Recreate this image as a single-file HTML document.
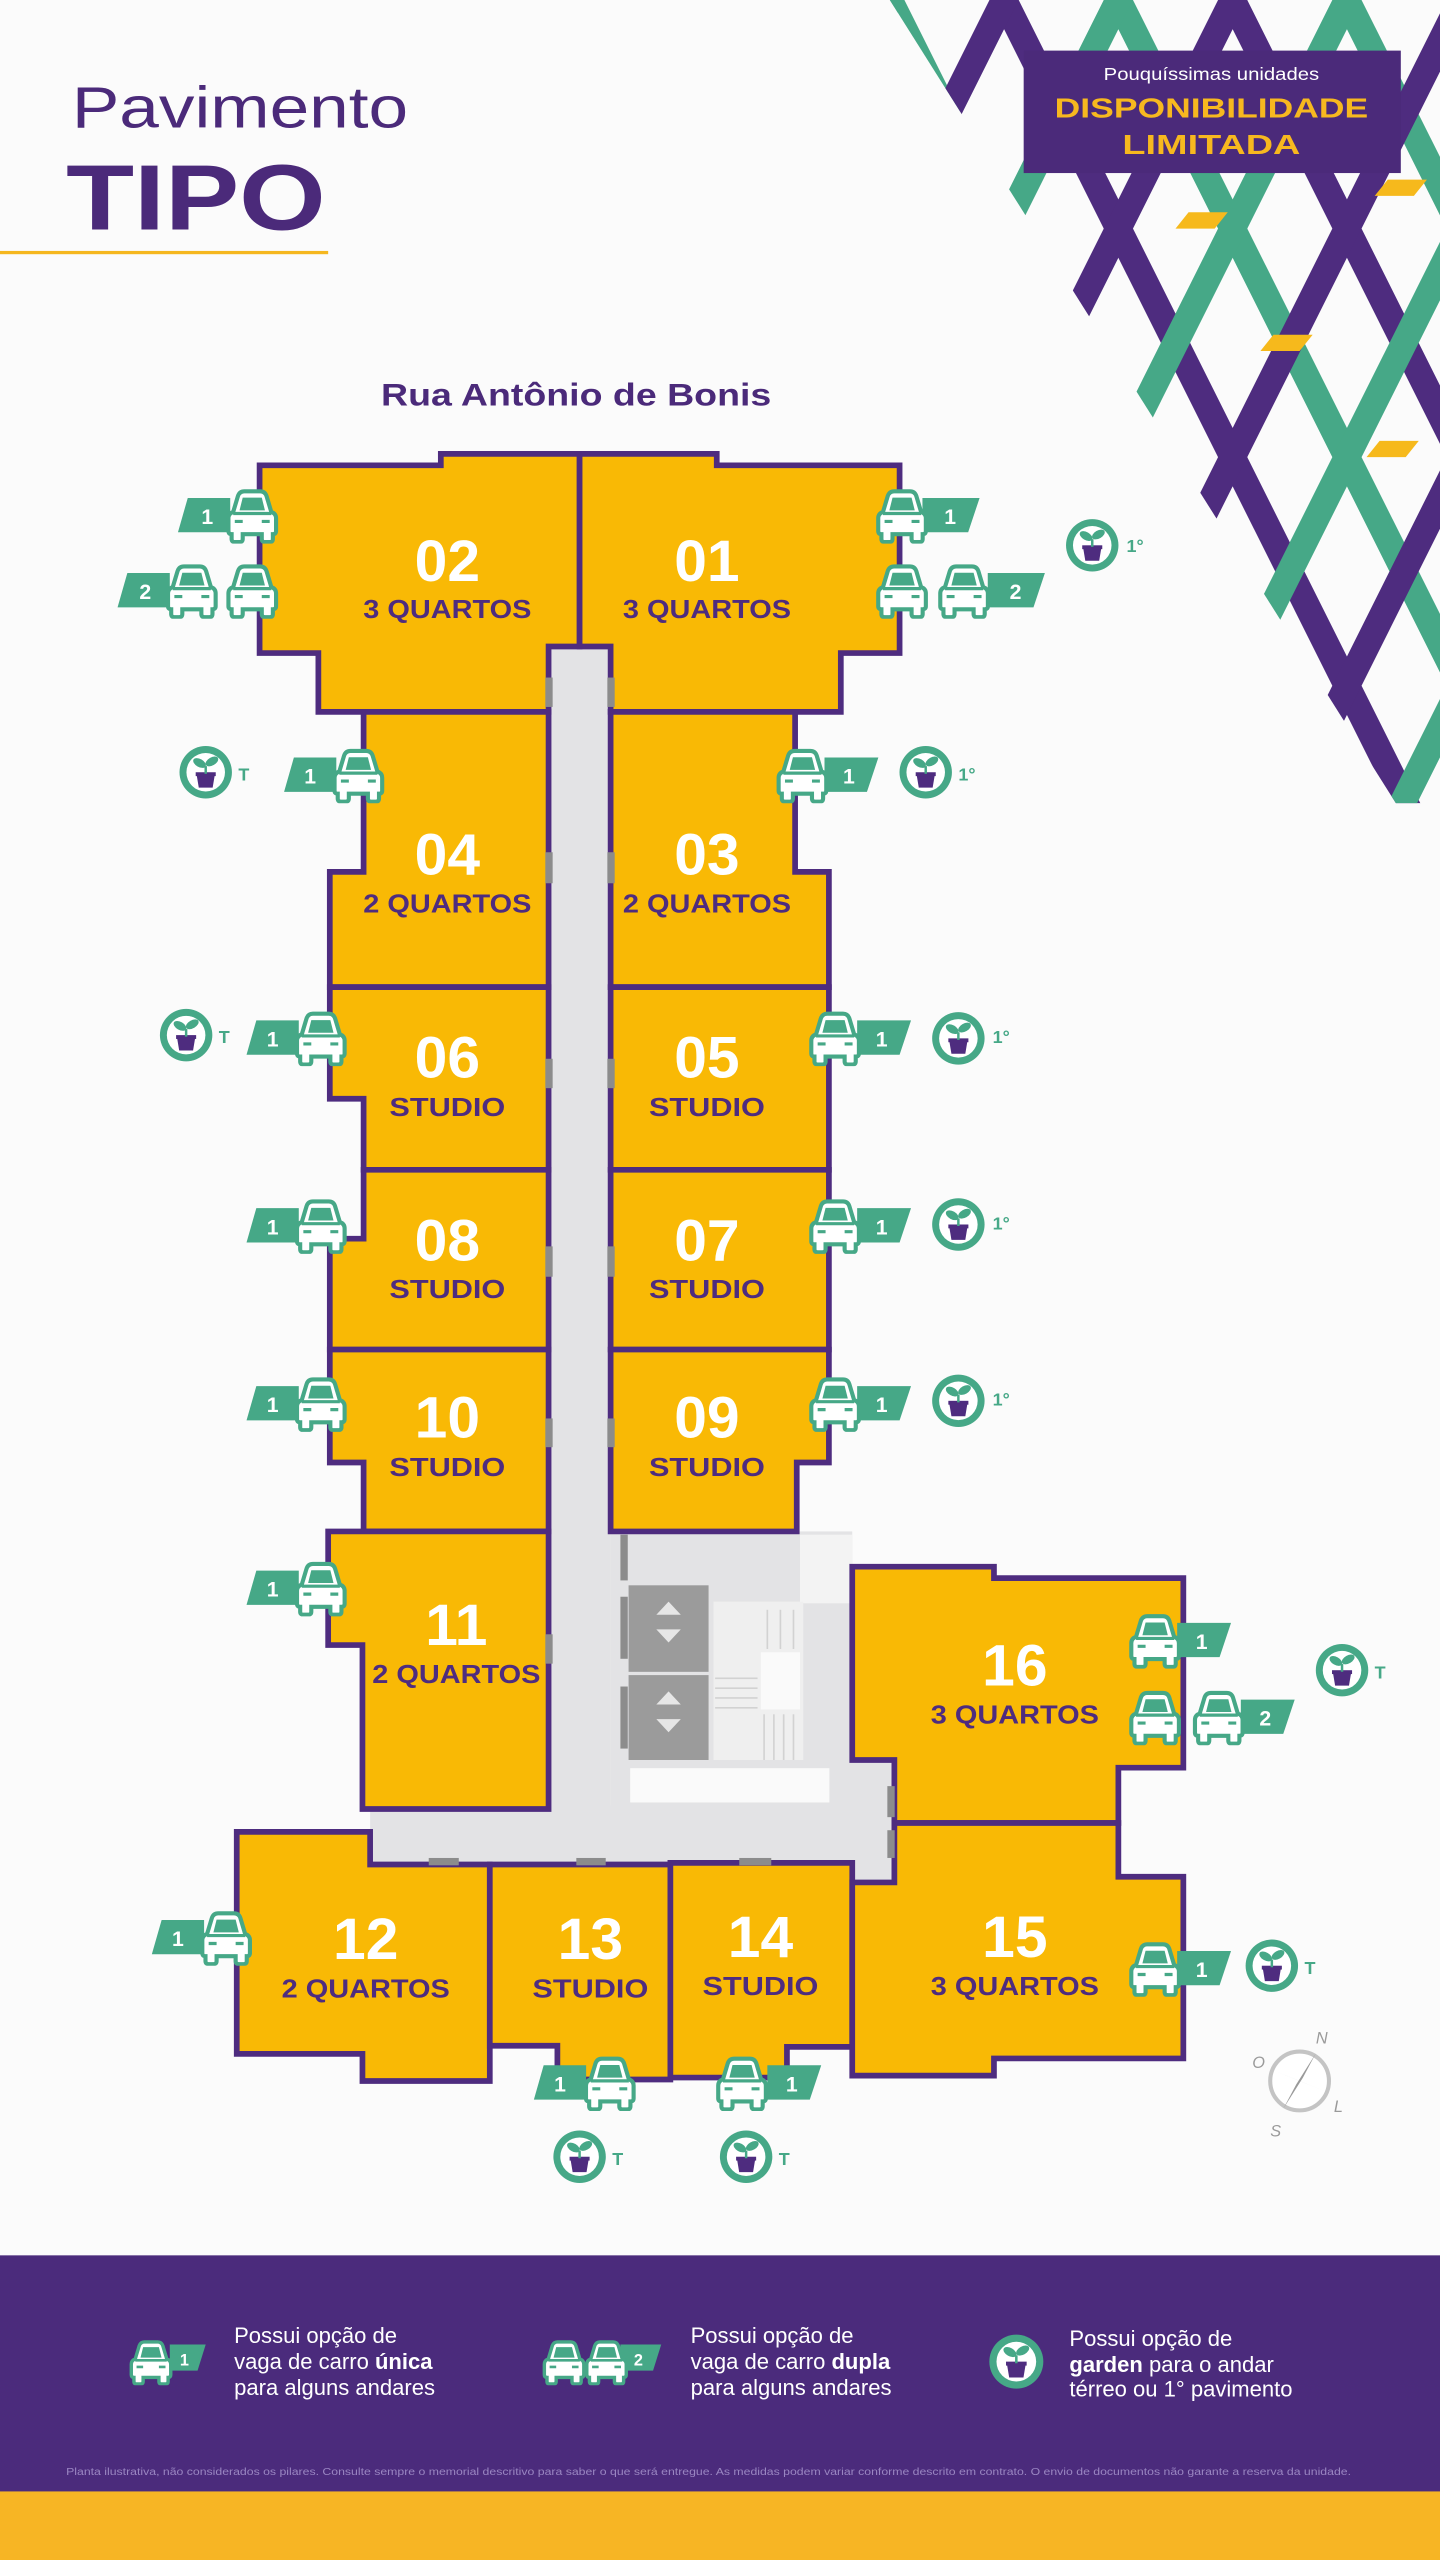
<!DOCTYPE html>
<html><head><meta charset="utf-8"><style>
html,body{margin:0;padding:0;background:#fbfbfb;}
svg{display:block;}
text{font-family:"Liberation Sans",sans-serif;}
</style></head><body>
<svg width="1440" height="2560" viewBox="0 0 882 1568" xmlns="http://www.w3.org/2000/svg">
<defs>
<clipPath id="pc"><polygon points="545,0 882,0 882,492 855,492"/></clipPath>
<symbol id="car" viewBox="0 0 36 36">
<path d="M6,16 L9,6 Q10,3 13,3 L23,3 Q26,3 27,6 L30,16 Q33,17 33,20 L33,28 Q33,30 31,30 L31,33 Q31,35 29,35 L26,35 Q24,35 24,33 L24,30 L12,30 L12,33 Q12,35 10,35 L7,35 Q5,35 5,33 L5,30 Q3,30 3,28 L3,20 Q3,17 6,16 Z" fill="#fff" stroke="#46a887" stroke-width="2.6"/>
<path d="M10,15 L12,7 L24,7 L26,15 Z" fill="#46a887"/>
<g stroke="#46a887" stroke-width="2"><line x1="7" y1="22" x2="12" y2="22"/><line x1="24" y1="22" x2="29" y2="22"/><line x1="6" y1="17" x2="30" y2="17"/></g>
</symbol>
<symbol id="gar" viewBox="-18 -18 36 36">
<circle r="17" fill="#46a887"/><circle r="12.5" fill="#fff"/>
<path d="M-6,1 L6,1 L4.5,10 L-4.5,10 Z" fill="#4e2c7f"/>
<rect x="-6.5" y="0" width="13" height="2.5" fill="#4e2c7f"/>
<path d="M0,1 L0,-4" stroke="#46a887" stroke-width="1.6"/>
<ellipse cx="-4" cy="-6" rx="4.5" ry="2.6" transform="rotate(30 -4 -6)" fill="#46a887"/>
<ellipse cx="4" cy="-7" rx="4.5" ry="2.6" transform="rotate(-30 4 -7)" fill="#46a887"/>
</symbol>
</defs>

<!-- pattern -->
<g clip-path="url(#pc)" stroke-width="16">
<line x1="465" y1="-20" x2="735" y2="520" stroke="#4e2c7f"/>
<line x1="535" y1="-20" x2="805" y2="520" stroke="#46a887"/>
<line x1="605" y1="-20" x2="875" y2="520" stroke="#4e2c7f"/>
<line x1="675" y1="-20" x2="945" y2="520" stroke="#46a887"/>
<line x1="745" y1="-20" x2="1015" y2="520" stroke="#4e2c7f"/>
<line x1="815" y1="-20" x2="1085" y2="520" stroke="#46a887"/>
<line x1="885" y1="-20" x2="1155" y2="520" stroke="#4e2c7f"/>
<line x1="555" y1="-20" x2="285" y2="520" stroke="#46a887"/>
<line x1="625" y1="-20" x2="355" y2="520" stroke="#4e2c7f"/>
<line x1="695" y1="-20" x2="425" y2="520" stroke="#46a887"/>
<line x1="765" y1="-20" x2="495" y2="520" stroke="#4e2c7f"/>
<line x1="835" y1="-20" x2="565" y2="520" stroke="#46a887"/>
<line x1="905" y1="-20" x2="635" y2="520" stroke="#4e2c7f"/>
<line x1="975" y1="-20" x2="705" y2="520" stroke="#46a887"/>
<line x1="1045" y1="-20" x2="775" y2="520" stroke="#4e2c7f"/>
<line x1="1115" y1="-20" x2="845" y2="520" stroke="#46a887"/>
<line x1="1185" y1="-20" x2="915" y2="520" stroke="#4e2c7f"/>
</g>
<g fill="#f6b91c">
<polygon points="728,130 752,130 744,140 720,140"/>
<polygon points="780,205 804,205 796,215 772,215"/>
<polygon points="850,110 874,110 866,120 842,120"/>
<polygon points="845,270 869,270 861,280 837,280"/>
</g>

<!-- header -->
<text x="44" y="78" font-size="36" fill="#4b2a7a" textLength="206" lengthAdjust="spacingAndGlyphs">Pavimento</text>
<text x="40.5" y="140.6" font-size="57" font-weight="bold" fill="#4b2a7a" textLength="159" lengthAdjust="spacingAndGlyphs">TIPO</text>
<rect x="0" y="153.7" width="201" height="2" fill="#f5b71f"/>
<rect x="627" y="31" width="231" height="75" fill="#4b2a7a"/>
<text x="742" y="49" font-size="10.5" fill="#fff" text-anchor="middle" textLength="132" lengthAdjust="spacingAndGlyphs">Pouquíssimas unidades</text>
<text x="742" y="72" font-size="17" font-weight="bold" fill="#f7b81f" text-anchor="middle" textLength="192" lengthAdjust="spacingAndGlyphs">DISPONIBILIDADE</text>
<text x="742" y="94.4" font-size="17" font-weight="bold" fill="#f7b81f" text-anchor="middle" textLength="109" lengthAdjust="spacingAndGlyphs">LIMITADA</text>
<text x="233.4" y="248.4" font-size="19.5" font-weight="bold" fill="#4b2a7a" textLength="239" lengthAdjust="spacingAndGlyphs">Rua Antônio de Bonis</text>

<!-- corridor / core -->
<g fill="#e3e3e5">
<rect x="336" y="396" width="38" height="715"/>
<rect x="374" y="938" width="148" height="202"/>
<rect x="226.7" y="1106" width="300" height="36"/>
<rect x="520" y="1076" width="27.8" height="77"/>
</g>
<rect x="490" y="940" width="32" height="42" fill="#f3f3f3"/>
<rect x="385" y="971" width="49" height="53" fill="#9b9b9b"/>
<rect x="385" y="1026" width="49" height="52" fill="#9b9b9b"/>
<g fill="#e6e6e6">
<polygon points="409.5,981 402,989 417,989"/><polygon points="409.5,1006 402,998 417,998"/>
<polygon points="409.5,1036 402,1044 417,1044"/><polygon points="409.5,1061 402,1053 417,1053"/>
</g>
<rect x="437" y="981" width="55" height="97" fill="#efefef"/>
<g stroke="#d2d2d2" stroke-width="1">
<line x1="438" y1="1028" x2="464" y2="1028"/><line x1="438" y1="1034" x2="464" y2="1034"/><line x1="438" y1="1040" x2="464" y2="1040"/><line x1="438" y1="1046" x2="464" y2="1046"/>
<line x1="468" y1="1050" x2="468" y2="1078"/><line x1="474" y1="1050" x2="474" y2="1078"/><line x1="480" y1="1050" x2="480" y2="1078"/><line x1="486" y1="1050" x2="486" y2="1078"/>
<line x1="470" y1="986" x2="470" y2="1010"/><line x1="478" y1="986" x2="478" y2="1010"/><line x1="486" y1="986" x2="486" y2="1010"/>
</g>
<rect x="466" y="1012" width="24" height="35" fill="#fafafa"/>
<rect x="386" y="1083" width="122" height="21" fill="#fafafa"/>

<!-- units -->
<g fill="#f9b905" stroke="#4e2c7f" stroke-width="3.5" stroke-linejoin="miter">
<polygon points="159,285 270,285 270,278 355,278 355,396 336,396 336,436 195,436 195,400 159,400"/>
<polygon points="355,278 439,278 439,285 551,285 551,400 515,400 515,436 374,436 374,396 355,396"/>
<polygon points="222.7,436 336,436 336,604.6 202,604.6 202,534 222.7,534"/>
<polygon points="374,436 487,436 487,534 507.7,534 507.7,604.6 374,604.6"/>
<polygon points="202,604.6 336,604.6 336,716.5 222.7,716.5 222.7,673 202,673"/>
<polygon points="374,604.6 507.7,604.6 507.7,716.5 374,716.5"/>
<polygon points="222.7,716.5 336,716.5 336,826.6 202,826.6 202,758.7 222.7,758.7"/>
<polygon points="374,716.5 507.7,716.5 507.7,826.6 374,826.6"/>
<polygon points="202,826.6 336,826.6 336,938 222.7,938 222.7,895.8 202,895.8"/>
<polygon points="374,826.6 507.7,826.6 507.7,895.8 488,895.8 488,938 374,938"/>
<polygon points="201,938 336,938 336,1108 222,1108 222,1007.6 201,1007.6"/>
<polygon points="145,1122 226.7,1122 226.7,1142 300,1142 300,1274.6 222,1274.6 222,1258 145,1258"/>
<polygon points="300,1142 410.6,1142 410.6,1273.7 341.4,1273.7 341.4,1253 300,1253"/>
<polygon points="410.6,1141 522,1141 522,1253.7 482,1253.7 482,1272.5 410.6,1272.5"/>
<polygon points="522,959.6 608.8,959.6 608.8,966.6 724.8,966.6 724.8,1082.7 685,1082.7 685,1116.6 547.8,1116.6 547.8,1078 522,1078"/>
<polygon points="547.8,1116.6 685,1116.6 685,1149.5 724.8,1149.5 724.8,1260.8 608.8,1260.8 608.8,1271.3 522,1271.3 522,1153 547.8,1153"/>
</g>

<!-- doors -->
<g fill="#8c8c8c">
<rect x="334" y="415" width="4.5" height="18"/><rect x="372" y="415" width="4.5" height="18"/>
<rect x="334" y="522" width="4.5" height="19"/><rect x="372" y="522" width="4.5" height="19"/>
<rect x="334" y="648.5" width="4.5" height="18"/><rect x="372" y="648.5" width="4.5" height="18"/>
<rect x="334" y="763.4" width="4.5" height="18.6"/><rect x="372" y="763.4" width="4.5" height="18.6"/>
<rect x="334" y="868.8" width="4.5" height="17.6"/><rect x="372" y="868.8" width="4.5" height="17.6"/>
<rect x="334" y="1001" width="4.5" height="18"/>
<rect x="380" y="940" width="4.5" height="28"/>
<rect x="380" y="978" width="4.5" height="38"/><rect x="380" y="1033" width="4.5" height="38"/>
<rect x="262.6" y="1138" width="18.4" height="4.5"/><rect x="353" y="1138" width="18" height="4.5"/><rect x="452.8" y="1138" width="19.6" height="4.5"/>
<rect x="543.5" y="1094" width="4.5" height="19"/><rect x="543.5" y="1121" width="4.5" height="17"/>
</g>

<!-- unit labels -->
<g font-weight="bold" text-anchor="middle">
<g fill="#fff" font-size="36">
<text x="274" y="356">02</text><text x="433" y="356">01</text>
<text x="274" y="535.5">04</text><text x="433" y="535.5">03</text>
<text x="274" y="660">06</text><text x="433" y="660">05</text>
<text x="274" y="772">08</text><text x="433" y="772">07</text>
<text x="274" y="880.5">10</text><text x="433" y="880.5">09</text>
<text x="279.5" y="1007.6">11</text>
<text x="224" y="1200">12</text><text x="361.6" y="1200">13</text><text x="465.8" y="1198.7">14</text>
<text x="621.6" y="1032.3">16</text><text x="621.6" y="1198.7">15</text>
</g>
<g fill="#4e2c7f" font-size="16">
<text x="274" y="378.5" textLength="103" lengthAdjust="spacingAndGlyphs">3 QUARTOS</text>
<text x="433" y="378.5" textLength="103" lengthAdjust="spacingAndGlyphs">3 QUARTOS</text>
<text x="274" y="559" textLength="103" lengthAdjust="spacingAndGlyphs">2 QUARTOS</text>
<text x="433" y="559" textLength="103" lengthAdjust="spacingAndGlyphs">2 QUARTOS</text>
<text x="274" y="683.6" textLength="71" lengthAdjust="spacingAndGlyphs">STUDIO</text>
<text x="433" y="683.6" textLength="71" lengthAdjust="spacingAndGlyphs">STUDIO</text>
<text x="274" y="795" textLength="71" lengthAdjust="spacingAndGlyphs">STUDIO</text>
<text x="433" y="795" textLength="71" lengthAdjust="spacingAndGlyphs">STUDIO</text>
<text x="274" y="904" textLength="71" lengthAdjust="spacingAndGlyphs">STUDIO</text>
<text x="433" y="904" textLength="71" lengthAdjust="spacingAndGlyphs">STUDIO</text>
<text x="279.5" y="1031" textLength="103" lengthAdjust="spacingAndGlyphs">2 QUARTOS</text>
<text x="224" y="1223.6" textLength="103" lengthAdjust="spacingAndGlyphs">2 QUARTOS</text>
<text x="361.6" y="1223.6" textLength="71" lengthAdjust="spacingAndGlyphs">STUDIO</text>
<text x="465.8" y="1222" textLength="71" lengthAdjust="spacingAndGlyphs">STUDIO</text>
<text x="621.6" y="1055.7" textLength="103" lengthAdjust="spacingAndGlyphs">3 QUARTOS</text>
<text x="621.6" y="1222" textLength="103" lengthAdjust="spacingAndGlyphs">3 QUARTOS</text>
</g>
</g>

<!-- badges -->
<g fill="#46a887">
<polygon points="115,305 141,305 141,326 109,326"/>
<polygon points="78,351 104,351 104,372 72,372"/>
<polygon points="565,305 600,305 593,326 565,326"/>
<polygon points="605,351 640,351 633,372 605,372"/>
<polygon points="180,464 206,464 206,485 174,485"/>
<polygon points="505,464 538,464 531,485 505,485"/>
<polygon points="157,625 183,625 183,646 151,646"/>
<polygon points="525,625 558,625 551,646 525,646"/>
<polygon points="157,740 183,740 183,761 151,761"/>
<polygon points="525,740 558,740 551,761 525,761"/>
<polygon points="157,849 183,849 183,870 151,870"/>
<polygon points="525,849 558,849 551,870 525,870"/>
<polygon points="157,962 183,962 183,983 151,983"/>
<polygon points="721,994 754,994 747,1015 721,1015"/>
<polygon points="760,1041 793,1041 786,1062 760,1062"/>
<polygon points="721,1195 754,1195 747,1216 721,1216"/>
<polygon points="99,1176 125,1176 125,1197 93,1197"/>
<polygon points="333,1265 359,1265 359,1286 327,1286"/>
<polygon points="470,1265 503,1265 496,1286 470,1286"/>
</g>
<g fill="#fff" font-weight="bold" font-size="13" text-anchor="middle">
<text x="127" y="321">1</text><text x="89" y="367">2</text>
<text x="582" y="321">1</text><text x="622" y="367">2</text>
<text x="190" y="480">1</text><text x="520" y="480">1</text>
<text x="167" y="641">1</text><text x="540" y="641">1</text>
<text x="167" y="756">1</text><text x="540" y="756">1</text>
<text x="167" y="865">1</text><text x="540" y="865">1</text>
<text x="167" y="978">1</text>
<text x="736" y="1010">1</text><text x="775" y="1057">2</text>
<text x="736" y="1211">1</text>
<text x="109" y="1192">1</text>
<text x="343" y="1281">1</text><text x="485" y="1281">1</text>
</g>

<!-- cars -->
<use href="#car" x="137" y="298" width="35" height="35"/>
<use href="#car" x="100" y="344" width="35" height="35"/>
<use href="#car" x="137" y="344" width="35" height="35"/>
<use href="#car" x="535" y="298" width="35" height="35"/>
<use href="#car" x="535" y="344" width="35" height="35"/>
<use href="#car" x="573" y="344" width="35" height="35"/>
<use href="#car" x="202" y="457" width="35" height="35"/>
<use href="#car" x="474" y="457" width="35" height="35"/>
<use href="#car" x="179" y="618" width="35" height="35"/>
<use href="#car" x="494" y="618" width="35" height="35"/>
<use href="#car" x="179" y="733" width="35" height="35"/>
<use href="#car" x="494" y="733" width="35" height="35"/>
<use href="#car" x="179" y="842" width="35" height="35"/>
<use href="#car" x="494" y="842" width="35" height="35"/>
<use href="#car" x="179" y="955" width="35" height="35"/>
<use href="#car" x="690" y="987" width="35" height="35"/>
<use href="#car" x="690" y="1034" width="35" height="35"/>
<use href="#car" x="729" y="1034" width="35" height="35"/>
<use href="#car" x="690" y="1188" width="35" height="35"/>
<use href="#car" x="121" y="1169" width="35" height="35"/>
<use href="#car" x="356" y="1258" width="35" height="35"/>
<use href="#car" x="437" y="1258" width="35" height="35"/>

<!-- gardens -->
<use href="#gar" x="652" y="317" width="34" height="34"/>
<use href="#gar" x="109" y="456" width="34" height="34"/>
<use href="#gar" x="550" y="456" width="34" height="34"/>
<use href="#gar" x="97" y="617" width="34" height="34"/>
<use href="#gar" x="570" y="619" width="34" height="34"/>
<use href="#gar" x="570" y="733" width="34" height="34"/>
<use href="#gar" x="570" y="841" width="34" height="34"/>
<use href="#gar" x="805" y="1006" width="34" height="34"/>
<use href="#gar" x="762" y="1187" width="34" height="34"/>
<use href="#gar" x="338" y="1304" width="34" height="34"/>
<use href="#gar" x="440" y="1304" width="34" height="34"/>
<g fill="#46a887" font-weight="bold" font-size="11">
<text x="690" y="338">1°</text>
<text x="146" y="478">T</text><text x="587" y="478">1°</text>
<text x="134" y="639">T</text><text x="608" y="639">1°</text>
<text x="608" y="753">1°</text><text x="608" y="861">1°</text>
<text x="842" y="1028">T</text><text x="799" y="1209">T</text>
<text x="375" y="1326">T</text><text x="477" y="1326">T</text>
</g>

<!-- compass -->
<g transform="translate(796,1274.6)">
<circle r="18" fill="#fff" stroke="#c4c4c4" stroke-width="2.5"/>
<polygon points="10,-17 2,-2 -10,17 -2,2" fill="#9a9a9a"/>
<polygon points="-15,-6 0,0 15,6" fill="#bcbcbc"/>
<g fill="#9a9a9a" font-size="10" font-style="italic">
<text x="10" y="-23">N</text><text x="-29" y="-8">O</text><text x="21" y="19">L</text><text x="-18" y="34">S</text>
</g>
</g>

<!-- legend -->
<rect x="0" y="1381.4" width="882" height="145" fill="#4b2b7c"/>
<rect x="0" y="1526" width="882" height="42" fill="#f7b524"/>
<polygon points="104,1436 126,1436 121,1452 104,1452" fill="#46a887"/>
<use href="#car" x="78" y="1432" width="29" height="29"/>
<text x="113" y="1449" fill="#fff" font-size="10" font-weight="bold" text-anchor="middle">1</text>
<polygon points="380,1436 405,1436 400,1452 380,1452" fill="#46a887"/>
<use href="#car" x="331" y="1432" width="29" height="29"/>
<use href="#car" x="357" y="1432" width="29" height="29"/>
<text x="391" y="1449" fill="#fff" font-size="10" font-weight="bold" text-anchor="middle">2</text>
<use href="#gar" x="605" y="1429" width="35" height="35"/>
<g fill="#fff" font-size="13.5">
<text x="143.4" y="1435">Possui opção de</text>
<text x="143.4" y="1451">vaga de carro <tspan font-weight="bold">única</tspan></text>
<text x="143.4" y="1467">para alguns andares</text>
<text x="423" y="1435">Possui opção de</text>
<text x="423" y="1451">vaga de carro <tspan font-weight="bold">dupla</tspan></text>
<text x="423" y="1467">para alguns andares</text>
<text x="655" y="1437">Possui opção de</text>
<text x="655" y="1453"><tspan font-weight="bold">garden</tspan> para o andar</text>
<text x="655" y="1468">térreo ou 1° pavimento</text>
</g>
<text x="40.5" y="1516" font-size="6.3" fill="#9a86c2" textLength="787" lengthAdjust="spacingAndGlyphs">Planta ilustrativa, não considerados os pilares. Consulte sempre o memorial descritivo para saber o que será entregue. As medidas podem variar conforme descrito em contrato. O envio de documentos não garante a reserva da unidade.</text>
</svg>
</body></html>
